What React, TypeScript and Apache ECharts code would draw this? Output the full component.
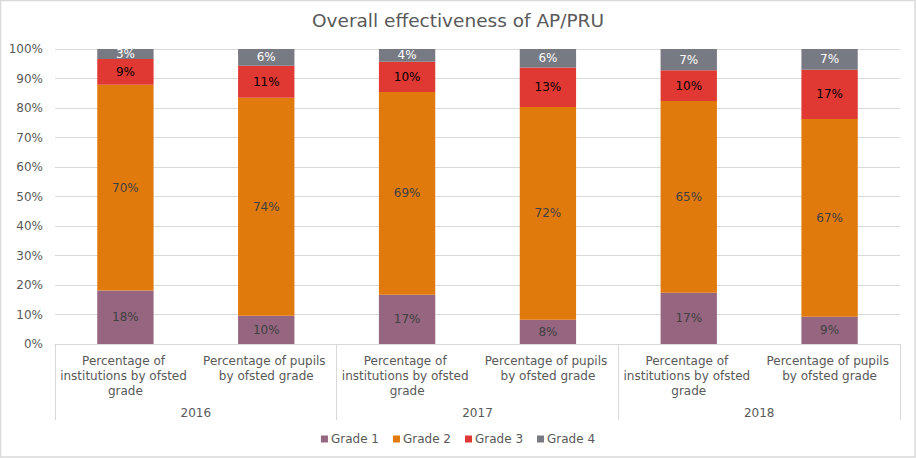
import React, { useEffect, useRef } from "react";
import * as echarts from "echarts";

const categories = [
  "Percentage of institutions by ofsted grade",
  "Percentage of pupils by ofsted grade",
  "Percentage of institutions by ofsted grade",
  "Percentage of pupils by ofsted grade",
  "Percentage of institutions by ofsted grade",
  "Percentage of pupils by ofsted grade",
];
const years = ["2016", "2017", "2018"];
const grade1 = [18.1, 9.6, 16.7, 8.2, 17.4, 9.2];
const grade2 = [69.8, 73.9, 68.7, 72.1, 65.0, 67.1];
const grade3 = [8.7, 10.8, 10.3, 13.4, 10.4, 16.7];
const grade4 = [3.4, 5.7, 4.3, 6.3, 7.2, 7.0];
const seriesNames = ["Grade 1", "Grade 2", "Grade 3", "Grade 4"];
const colors = ["#966681", "#E07A0C", "#E03934", "#787A83"];
const labelColors = ["#404040", "#404040", "#000000", "#ffffff"];

const FONT = "DejaVu Sans";
const GRAY = "#595959";
const LINE = "#d9d9d9";

export default function App() {
  const ref = useRef<HTMLDivElement>(null);
  useEffect(() => {
    if (!ref.current) return;
    const chart = echarts.init(ref.current, undefined, { renderer: "svg" });
    const values = [grade1, grade2, grade3, grade4];
    chart.setOption({
      animation: false,
      backgroundColor: "#ffffff",
      title: {
        text: "Overall effectiveness of AP/PRU",
        left: "center",
        top: 6,
        textStyle: { fontFamily: FONT, fontSize: 18.5, fontWeight: "normal", color: GRAY },
      },
      legend: {
        top: 428,
        left: "center",
        icon: "rect",
        itemWidth: 7,
        itemHeight: 7,
        itemGap: 14,
        textStyle: { fontFamily: FONT, fontSize: 12, color: GRAY, padding: [0, 0, 0, -2] },
        data: seriesNames,
      },
      grid: { left: 55, right: 16, top: 49, bottom: 114, containLabel: false },
      xAxis: [
        {
          type: "category",
          data: categories,
          position: "bottom",
          axisLine: { show: true, lineStyle: { color: LINE } },
          axisTick: { show: false },
          axisLabel: {
            interval: 0,
            margin: 9,
            width: 132,
            overflow: "break",
            lineHeight: 15,
            fontFamily: FONT,
            fontSize: 12,
            color: GRAY,
          },
        },
        {
          type: "category",
          data: years,
          position: "bottom",
          axisLine: { show: false },
          axisTick: { show: true, interval: 0, length: 76, lineStyle: { color: LINE } },
          axisLabel: {
            interval: 0,
            margin: 63,
            fontFamily: FONT,
            fontSize: 12,
            color: GRAY,
          },
        },
      ],
      yAxis: {
        type: "value",
        min: 0,
        max: 100,
        interval: 10,
        axisLine: { show: false },
        axisTick: { show: false },
        splitLine: { lineStyle: { color: LINE } },
        axisLabel: {
          formatter: "{value}%",
          margin: 12,
          fontFamily: FONT,
          fontSize: 12,
          color: GRAY,
        },
      },
      graphic: [
        {
          type: "rect",
          shape: { x: 0.5, y: 0.5, width: 914.5, height: 456.5 },
          style: { fill: "none", stroke: LINE, lineWidth: 1.5 },
          silent: true,
        },
      ],
      series: seriesNames.map((name, i) => ({
        name,
        type: "bar",
        stack: "total",
        xAxisIndex: 0,
        barWidth: "40%",
        itemStyle: { color: colors[i] },
        label: {
          show: true,
          position: "inside",
          formatter: (p: any) => Math.round(p.value) + "%",
          fontFamily: FONT,
          fontSize: 12,
          color: labelColors[i],
          textBorderWidth: 0,
        },
        data: values[i],
      })),
    });
    return () => chart.dispose();
  }, []);
  return (
    <div
      ref={ref}
      style={{ position: "absolute", left: 0, top: 0, width: 916, height: 458 }}
    />
  );
}
